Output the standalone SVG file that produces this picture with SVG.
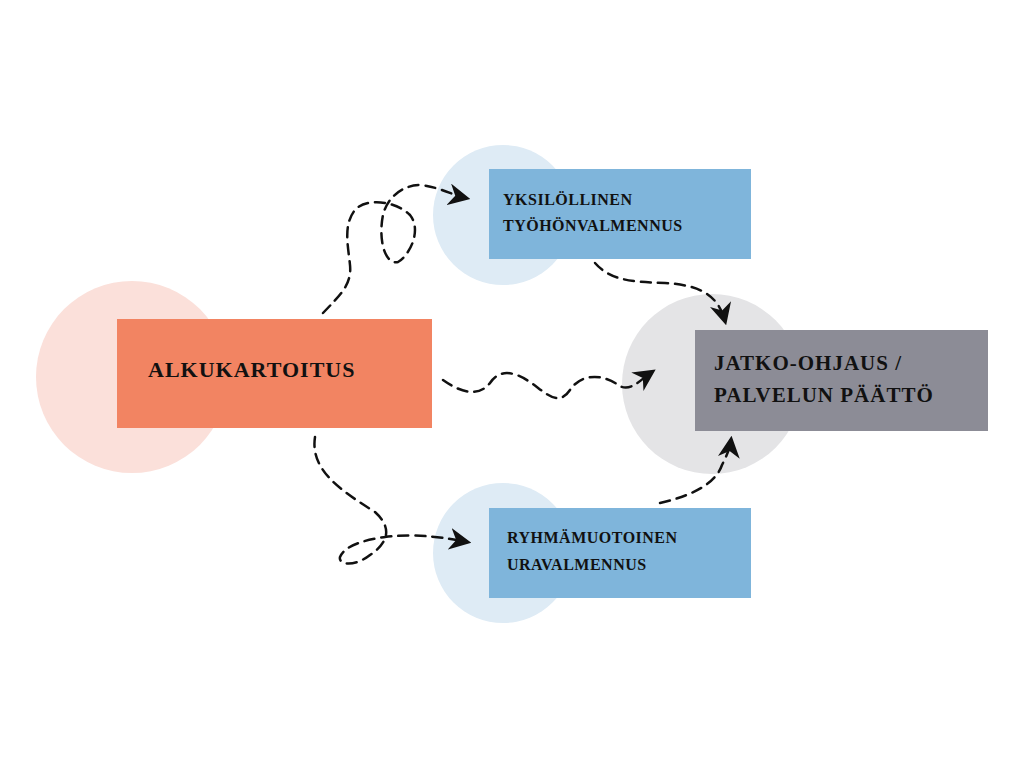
<svg xmlns="http://www.w3.org/2000/svg" width="1024" height="768" viewBox="0 0 1024 768">
<style>
.t{font-family:"Liberation Serif","DejaVu Serif",serif;font-weight:bold;fill:#111}
.c{fill:none;stroke:#111;stroke-width:2.5;stroke-dasharray:10 7;stroke-linecap:round}
</style>
<defs><marker id="a" viewBox="0 0 10 10" refX="8" refY="5" markerWidth="9" markerHeight="9" markerUnits="userSpaceOnUse" orient="auto"><path d="M0,0 L10,5 L0,10 L3,5 Z" fill="#111"/></marker>
<marker id="b" viewBox="0 0 10 10" refX="8" refY="5" markerWidth="22" markerHeight="22" markerUnits="userSpaceOnUse" orient="auto"><path d="M0,0 L10,5 L0,10 L3,5 Z" fill="#111"/></marker></defs>
<rect width="1024" height="768" fill="#fff"/>
<g id="n1"><circle cx="132" cy="377" r="96" fill="#fbe0da"/><rect x="117" y="319" width="315" height="109" fill="#f28462"/><text class="t" x="148" y="377" font-size="22" letter-spacing="1">ALKUKARTOITUS</text></g>
<g id="n2"><circle cx="503" cy="215" r="70" fill="#deebf5"/><rect x="489" y="169" width="262" height="90" fill="#7fb5db"/><text class="t" x="503" y="205" font-size="16" letter-spacing="0.5">YKSILÖLLINEN</text><text class="t" x="503" y="231" font-size="16" letter-spacing="0.5">TYÖHÖNVALMENNUS</text></g>
<g id="n3"><circle cx="503" cy="553" r="70" fill="#deebf5"/><rect x="489" y="508" width="262" height="90" fill="#7fb5db"/><text class="t" x="507" y="543" font-size="16" letter-spacing="0.5">RYHMÄMUOTOINEN</text><text class="t" x="507" y="570" font-size="16" letter-spacing="0.5">URAVALMENNUS</text></g>
<g id="n4"><circle cx="712" cy="384" r="90" fill="#e4e4e6"/><rect x="695" y="330" width="293" height="101" fill="#8c8c96"/><text class="t" x="714" y="370" font-size="21" letter-spacing="1">JATKO-OHJAUS /</text><text class="t" x="714" y="402" font-size="21" letter-spacing="1">PALVELUN PÄÄTTÖ</text></g>
<g id="connectors">
<path class="c" marker-end="url(#b)" d="M323,313 C340,295 352,285 350,265 C348,245 343,225 355,210 C365,198 395,200 410,215 C422,230 410,255 398,262 C385,265 378,240 383,215 C388,195 405,185 420,185 C440,187 452,195 466,198"/>
<path class="c" marker-end="url(#b)" d="M315,437 C310,470 340,490 375,512 C395,530 385,545 370,555 C355,567 338,565 340,557 C345,545 365,540 385,537 C420,533 445,538 467,542"/>
<path class="c" marker-end="url(#b)" d="M443,380 C460,392 478,398 490,383 C500,368 515,372 530,382 C545,392 558,408 570,390 C582,372 605,375 618,385 C630,393 640,380 652,372"/>
<path class="c" marker-end="url(#b)" d="M595,263 C610,280 630,282 665,283 C700,285 718,295 725,321"/>
<path class="c" marker-end="url(#b)" d="M660,503 C690,496 715,485 722,465 C727,455 730,448 731,440"/>
</g>
</svg>
